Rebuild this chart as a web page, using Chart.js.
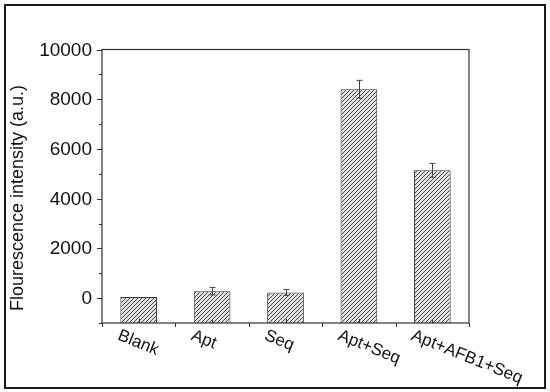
<!DOCTYPE html>
<html lang="en">
<head>
    <meta charset="UTF-8">
    <title>Flourescence intensity</title>
    <script src="https://cdn.jsdelivr.net/npm/chart.js"></script>
    <style>
        body {
            margin: 0;
            background: #ffffff;
        }
        #wrap {
            width: 550px;
            height: 392px;
        }
    </style>
</head>
<body>
    <div id="wrap"><canvas id="chart" width="550" height="392"></canvas></div>

    <script>
        // data
        const categories = ['Blank', 'Apt', 'Seq', 'Apt+Seq', 'Apt+AFB1+Seq'];
        const intensity = [50, 280, 230, 8400, 5140];
        const errors = [0, 150, 120, 360, 280];
        const yMajorTicks = [0, 2000, 4000, 6000, 8000, 10000];
        const yMinorTicks = [-1000, 1000, 3000, 5000, 7000, 9000];

        const FONT = '"Liberation Sans", Arial, sans-serif';

        // diagonal hatch fill
        function makeHatch() {
            const c = document.createElement('canvas');
            c.width = 4;
            c.height = 4;
            const g = c.getContext('2d');
            g.fillStyle = '#e0e0e0';
            g.fillRect(0, 0, 4, 4);
            g.strokeStyle = '#4a4a4a';
            g.lineWidth = 1;
            g.beginPath();
            g.moveTo(0, 4); g.lineTo(4, 0);
            g.moveTo(-1, 1); g.lineTo(1, -1);
            g.moveTo(3, 5); g.lineTo(5, 3);
            g.stroke();
            return g.createPattern(c, 'repeat');
        }
        const hatch = makeHatch();

        // axes box, tick marks, error bars, labels, outer frame
        const extras = {
            id: 'extras',
            afterDraw(chart) {
                const ctx = chart.ctx;
                const a = chart.chartArea;
                const xs = chart.scales.x;
                const ys = chart.scales.y;
                const meta = chart.getDatasetMeta(0);
                ctx.save();

                // error bars
                ctx.strokeStyle = '#444';
                ctx.lineWidth = 1;
                intensity.forEach((v, i) => {
                    if (!errors[i]) return;
                    const x = Math.round(meta.data[i].x) + 0.5;
                    const t = ys.getPixelForValue(v + errors[i]);
                    const b = ys.getPixelForValue(v - errors[i]);
                    ctx.beginPath();
                    ctx.moveTo(x, t); ctx.lineTo(x, b);
                    ctx.moveTo(x - 3, t); ctx.lineTo(x + 3, t);
                    ctx.moveTo(x - 3, b); ctx.lineTo(x + 3, b);
                    ctx.stroke();
                });

                // plot box
                ctx.strokeStyle = '#333';
                ctx.lineWidth = 1.2;
                ctx.strokeRect(a.left, a.top, a.right - a.left, a.bottom - a.top);

                // y ticks and labels
                ctx.lineWidth = 1;
                ctx.fillStyle = '#111';
                ctx.font = '19px ' + FONT;
                ctx.textAlign = 'right';
                ctx.textBaseline = 'middle';
                yMajorTicks.forEach(v => {
                    const y = Math.round(ys.getPixelForValue(v)) + 0.5;
                    ctx.beginPath();
                    ctx.moveTo(a.left - 5, y); ctx.lineTo(a.left, y);
                    ctx.stroke();
                    ctx.fillText(String(v), a.left - 10, y);
                });
                yMinorTicks.forEach(v => {
                    const y = Math.round(ys.getPixelForValue(v)) + 0.5;
                    ctx.beginPath();
                    ctx.moveTo(a.left - 3, y); ctx.lineTo(a.left, y);
                    ctx.stroke();
                });

                // x ticks: centres point in, boundaries point out
                const step = (a.right - a.left) / categories.length;
                categories.forEach((c, i) => {
                    const x = Math.round(xs.getPixelForValue(i)) + 0.5;
                    ctx.beginPath();
                    ctx.moveTo(x, a.bottom); ctx.lineTo(x, a.bottom - 4);
                    ctx.stroke();
                });
                for (let i = 0; i <= categories.length; i++) {
                    const x = Math.round(xs.getPixelForValue(i) - step / 2) + 0.5;
                    ctx.beginPath();
                    ctx.moveTo(x, a.bottom); ctx.lineTo(x, a.bottom + 4);
                    ctx.stroke();
                }

                // x labels, turned clockwise
                ctx.font = '17px ' + FONT;
                ctx.textAlign = 'left';
                ctx.textBaseline = 'top';
                categories.forEach((c, i) => {
                    const x = xs.getPixelForValue(i) - 17;
                    ctx.save();
                    ctx.translate(x, a.bottom + 4);
                    ctx.rotate(22 * Math.PI / 180);
                    ctx.fillText(c, 0, 0);
                    ctx.restore();
                });

                // y title
                ctx.save();
                ctx.font = '18px ' + FONT;
                ctx.textAlign = 'center';
                ctx.textBaseline = 'middle';
                ctx.translate(18, 198);
                ctx.rotate(-Math.PI / 2);
                ctx.fillText('Flourescence intensity (a.u.)', 0, 0);
                ctx.restore();

                // outer frame
                ctx.strokeStyle = '#1a1a1a';
                ctx.lineWidth = 2;
                ctx.strokeRect(5, 5, 540, 383);
                ctx.restore();
            }
        };

        new Chart(document.getElementById('chart'), {
            type: 'bar',
            data: {
                labels: categories,
                datasets: [{
                    data: intensity,
                    base: -1000,
                    backgroundColor: hatch,
                    borderColor: '#333',
                    borderWidth: 1,
                    barPercentage: 0.5,
                    categoryPercentage: 1
                }]
            },
            options: {
                responsive: false,
                animation: false,
                devicePixelRatio: 1,
                layout: { padding: { top: 49.5, right: 81, left: 0, bottom: 0 } },
                plugins: {
                    legend: { display: false },
                    tooltip: { enabled: false }
                },
                scales: {
                    x: {
                        offset: true,
                        grid: { display: false },
                        border: { display: false },
                        ticks: { display: false },
                        afterFit: s => { s.height = 69; }
                    },
                    y: {
                        min: -1000,
                        max: 10000,
                        grid: { display: false },
                        border: { display: false },
                        ticks: { display: false },
                        afterFit: s => { s.width = 102; }
                    }
                }
            },
            plugins: [extras]
        });
    </script>
</body>
</html>
